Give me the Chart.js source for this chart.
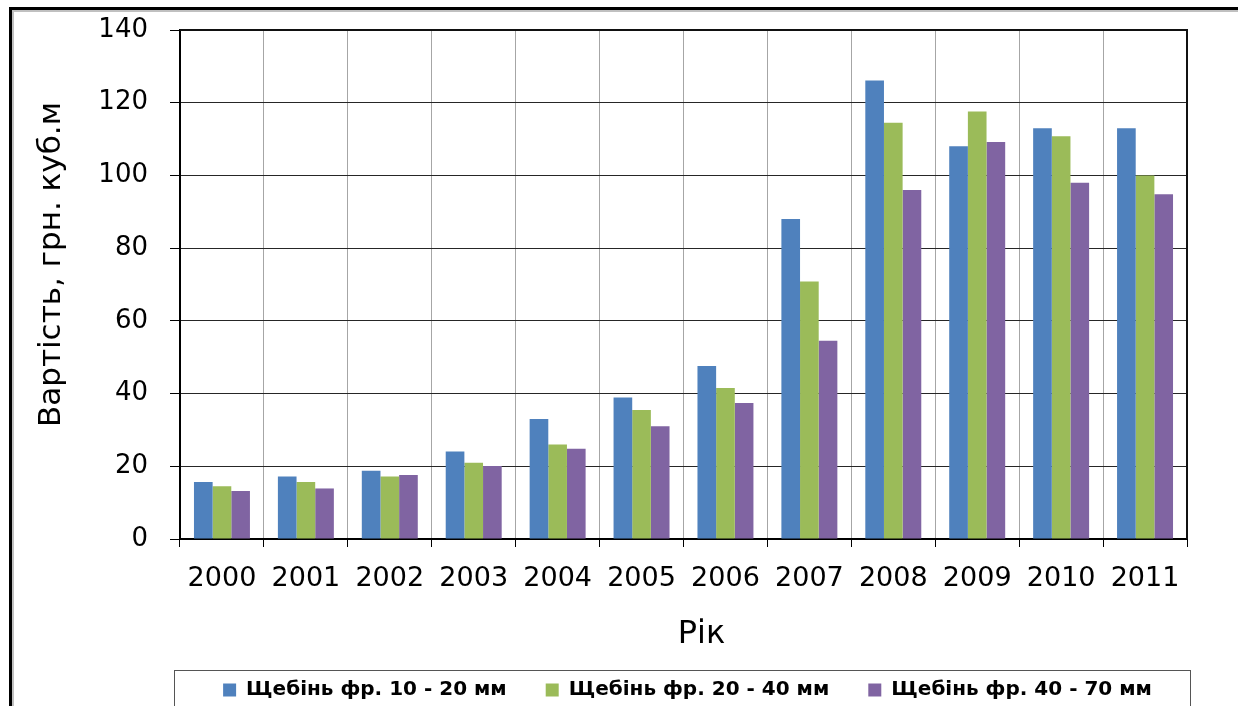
<!DOCTYPE html>
<html>
<head>
<meta charset="utf-8">
<script src="https://cdn.jsdelivr.net/npm/chart.js@4.4.0/dist/chart.umd.min.js"></script>
<style>
  html, body { margin: 0; padding: 0; background: #fff; overflow: hidden; }
  canvas { display: block; }
</style>
</head>
<body>
<canvas id="c" width="1238" height="706"></canvas>
<script>
// Вартість щебеню за роками, грн за куб. м
const years = ['2000', '2001', '2002', '2003', '2004', '2005', '2006', '2007', '2008', '2009', '2010', '2011'];
const seriesNames = ['Щебінь фр. 10 - 20 мм', 'Щебінь фр. 20 - 40 мм', 'Щебінь фр. 40 - 70 мм'];
const price10to20 = [15.7, 17.2, 18.8, 24.1, 33.0, 38.9, 47.6, 88.0, 126.1, 108.0, 113.0, 113.0];
const price20to40 = [14.5, 15.7, 17.2, 21.0, 26.0, 35.5, 41.5, 70.8, 114.5, 117.6, 110.8, 100.0];
const price40to70 = [13.2, 13.9, 17.6, 20.1, 24.8, 31.0, 37.4, 54.5, 96.0, 109.2, 98.0, 94.8];
const yTicks = [0, 20, 40, 60, 80, 100, 120, 140];
const yTitle = 'Вартість, грн. куб.м';
const xTitle = 'Рік';

const seriesColors = ['#4F81BD', '#9BBB59', '#8064A2'];
const FONT = 'DejaVu Sans';
const LEGEND_FONT_SIZE = 20;

Chart.defaults.font.family = FONT;
Chart.defaults.color = '#000';

// Outer frame, plot border, axis titles and the legend box
const decorations = {
  id: 'decorations',
  afterLayout(chart) {
    const lg = chart.legend, ca = chart.chartArea;
    const pad = lg.options.labels.padding;
    lg.left = ca.left - 5;
    lg.right = ca.right + 13;
    lg.top = 690 - LEGEND_FONT_SIZE / 2 - pad;
    lg.bottom = chart.height;
  },
  beforeDraw(chart) {
    const ctx = chart.ctx;
    ctx.save();
    ctx.fillStyle = '#fff';
    ctx.fillRect(0, 0, chart.width, chart.height);
    ctx.fillStyle = '#c0c0c0';
    ctx.fillRect(12, 10, chart.width - 12, 2);
    ctx.fillRect(12, 10, 2, chart.height - 10);
    ctx.fillStyle = '#000';
    ctx.fillRect(9, 7, chart.width - 9, 3);
    ctx.fillRect(9, 7, 3, chart.height - 7);
    ctx.restore();
  },
  afterDraw(chart) {
    const ctx = chart.ctx, ca = chart.chartArea;
    ctx.save();
    // plot area top and right edges
    ctx.strokeStyle = '#111';
    ctx.lineWidth = 2;
    ctx.beginPath();
    ctx.moveTo(ca.left, ca.top);
    ctx.lineTo(ca.right, ca.top);
    ctx.lineTo(ca.right, ca.bottom);
    ctx.stroke();

    // legend box
    ctx.strokeStyle = '#555';
    ctx.lineWidth = 1;
    ctx.strokeRect(ca.left - 5.5, 670.5, (ca.right - ca.left) + 9, 60);

    // axis titles
    ctx.fillStyle = '#000';
    ctx.textAlign = 'center';
    ctx.textBaseline = 'middle';
    ctx.font = '32px "' + FONT + '"';
    ctx.fillText(xTitle, (ca.left + ca.right) / 2 + 18, 635);

    ctx.font = '31px "' + FONT + '"';
    ctx.translate(52, (ca.top + ca.bottom) / 2 - 20);
    ctx.rotate(-Math.PI / 2);
    ctx.fillText(yTitle, 0, 0);
    ctx.restore();
  }
};

new Chart(document.getElementById('c'), {
  type: 'bar',
  data: {
    labels: years,
    datasets: [
      { label: seriesNames[0], data: price10to20, backgroundColor: seriesColors[0] },
      { label: seriesNames[1], data: price20to40, backgroundColor: seriesColors[1] },
      { label: seriesNames[2], data: price40to70, backgroundColor: seriesColors[2] }
    ]
  },
  options: {
    responsive: false,
    animation: false,
    devicePixelRatio: 1,
    categoryPercentage: 0.667,
    barPercentage: 1.0,
    layout: { padding: { left: 0, right: 51, top: 30, bottom: 0 } },
    plugins: {
      tooltip: { enabled: false },
      legend: {
        position: 'bottom',
        maxHeight: 36,
        labels: {
          boxWidth: 13,
          boxHeight: 13,
          padding: 39,
          color: '#000',
          font: { family: FONT, size: LEGEND_FONT_SIZE, weight: 'bold' }
        }
      }
    },
    scales: {
      x: {
        grid: { color: '#a6a6a6', lineWidth: 1, offset: true, tickLength: 8, tickColor: '#000' },
        border: { color: '#000', width: 2 },
        ticks: { font: { family: FONT, size: 27 }, color: '#000', padding: 16, maxRotation: 0, autoSkip: false },
        afterFit(scale) { scale.height = 131; }
      },
      y: {
        min: 0,
        max: 140,
        afterBuildTicks(scale) { scale.ticks = yTicks.map(v => ({ value: v })); },
        grid: { color: '#262626', lineWidth: 1, tickLength: 10, tickColor: '#000' },
        border: { color: '#000', width: 2 },
        ticks: { font: { family: FONT, size: 26 }, color: '#000', padding: 22 },
        afterFit(scale) {
          scale.width = 180;
          scale.paddingTop = 0;
          scale.paddingBottom = 0;
        }
      }
    }
  },
  plugins: [decorations]
});
</script>
</body>
</html>
